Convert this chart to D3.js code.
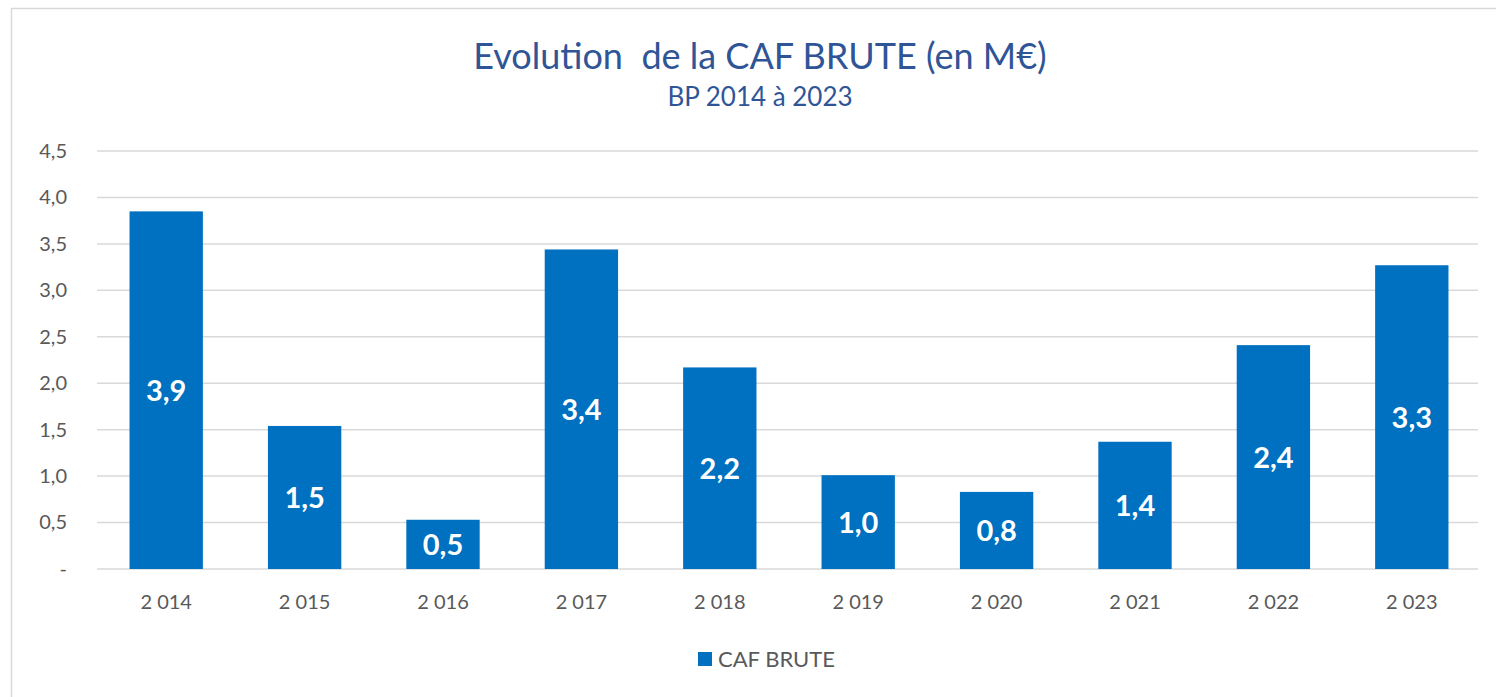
<!DOCTYPE html>
<html>
<head>
<meta charset="utf-8">
<script src="https://cdn.jsdelivr.net/npm/d3@7"></script>
<style>
  body { margin: 0; background: #fff; }
  svg { display: block; }
</style>
</head>
<body>
<div id="chart"></div>
<script>
"use strict";

var years = ["2 014", "2 015", "2 016", "2 017", "2 018", "2 019", "2 020", "2 021", "2 022", "2 023"];
var cafBrute = [3.85, 1.54, 0.53, 3.44, 2.17, 1.01, 0.83, 1.37, 2.41, 3.27];
var yTicks = [0, 0.5, 1, 1.5, 2, 2.5, 3, 3.5, 4, 4.5];

var W = 1496, H = 697,
    plotLeft = 97, plotRight = 1478, plotTop = 151, plotBottom = 569,
    font = "Lato, 'Open Sans', sans-serif",
    barColor = "#0070C0",
    textGrey = "#595959";

var svg = d3.select("#chart").append("svg")
    .attr("width", W)
    .attr("height", H);

// outer frame
svg.append("rect")
    .attr("x", 11.5).attr("y", 8.5)
    .attr("width", W + 10).attr("height", H + 10)
    .attr("fill", "none")
    .attr("stroke", "#d9d9d9")
    .attr("stroke-width", 1.5);

var x = d3.scaleBand()
    .domain(years)
    .range([plotLeft, plotRight + 3])
    .paddingInner(0.47)
    .paddingOuter(0.235);

var y = d3.scaleLinear()
    .domain([0, 4.5])
    .range([plotBottom, plotTop]);

var fmt = function (v) {
    return v === 0 ? "-" : d3.format(".1f")(v).replace(".", ",");
};

// gridlines
svg.append("g")
    .selectAll("line")
    .data(yTicks)
    .enter()
    .append("line")
    .attr("x1", plotLeft).attr("x2", plotRight)
    .attr("y1", function (d) { return y(d); })
    .attr("y2", function (d) { return y(d); })
    .attr("stroke", "#d9d9d9")
    .attr("stroke-width", 1.5);

// y axis labels
var yAxis = svg.append("g")
    .attr("transform", "translate(67,0)")
    .call(d3.axisLeft(y).tickValues(yTicks).tickFormat(fmt).tickSize(0).tickPadding(0));
yAxis.select(".domain").remove();
yAxis.selectAll("text")
    .attr("fill", textGrey)
    .attr("font-family", font)
    .attr("font-size", 20);

// x axis labels
var xAxis = svg.append("g")
    .attr("transform", "translate(0," + plotBottom + ")")
    .call(d3.axisBottom(x).tickSize(0).tickPadding(26));
xAxis.select(".domain").remove();
xAxis.selectAll("text")
    .attr("fill", textGrey)
    .attr("font-family", font)
    .attr("font-size", 20);

// bars
svg.append("g")
    .selectAll("rect")
    .data(cafBrute)
    .enter()
    .append("rect")
    .attr("x", function (d, i) { return x(years[i]); })
    .attr("y", function (d) { return y(d); })
    .attr("width", x.bandwidth())
    .attr("height", function (d) { return y(0) - y(d); })
    .attr("fill", barColor);

// value labels
svg.append("g")
    .selectAll("text")
    .data(cafBrute)
    .enter()
    .append("text")
    .text(function (d) { return fmt(Math.round(d * 10) / 10); })
    .attr("x", function (d, i) { return x(years[i]) + x.bandwidth() / 2; })
    .attr("y", function (d) { return (y(d) + y(0)) / 2; })
    .attr("dy", "0.36em")
    .attr("text-anchor", "middle")
    .attr("font-family", font)
    .attr("font-weight", "bold")
    .attr("font-size", 29)
    .attr("fill", "#fff");

// title
svg.append("text")
    .text("Evolution  de la CAF BRUTE (en M€)")
    .attr("x", 760).attr("y", 69)
    .attr("text-anchor", "middle")
    .attr("xml:space", "preserve")
    .style("white-space", "pre")
    .attr("font-family", font)
    .attr("font-size", 36)
    .attr("fill", "#2F5597");

svg.append("text")
    .text("BP 2014 à 2023")
    .attr("x", 760).attr("y", 106)
    .attr("text-anchor", "middle")
    .attr("font-family", font)
    .attr("font-size", 26)
    .attr("fill", "#2F5597");

// legend
var legend = svg.append("g").attr("transform", "translate(698,652)");
legend.append("rect")
    .attr("width", 14).attr("height", 14)
    .attr("fill", barColor);
legend.append("text")
    .text("CAF BRUTE")
    .attr("x", 20).attr("y", 15)
    .attr("font-family", font)
    .attr("font-size", 22)
    .attr("fill", textGrey);
</script>
</body>
</html>
